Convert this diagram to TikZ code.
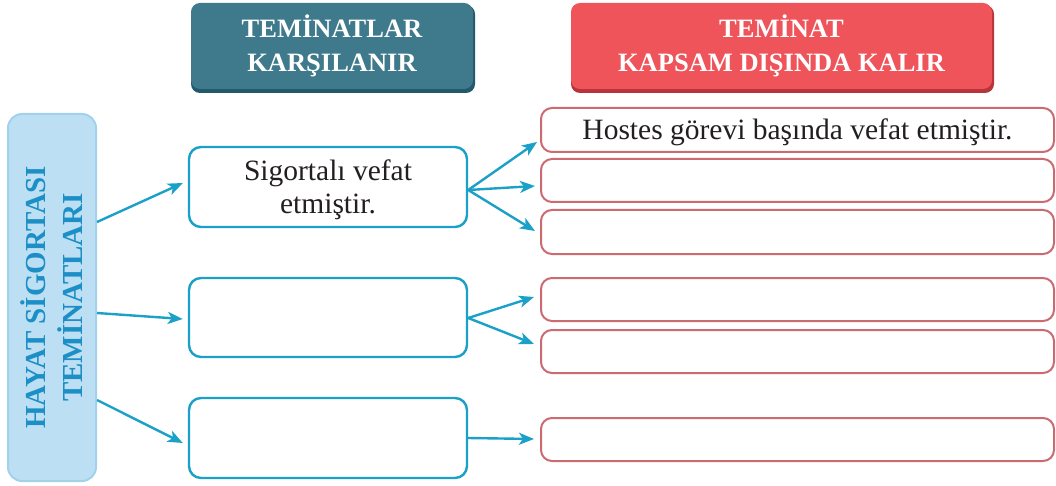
\documentclass[tikz,border=0pt]{standalone}
\usepackage{fontspec}
\setmainfont{Liberation Serif}
\usetikzlibrary{arrows.meta}
\definecolor{teal}{HTML}{3F7A8C}
\definecolor{tealdark}{HTML}{22596B}
\definecolor{redh}{HTML}{EE545A}
\definecolor{redhdark}{HTML}{B8343A}
\definecolor{lightb}{HTML}{BDDFF4}
\definecolor{lightbedge}{HTML}{A2D1EC}
\definecolor{bluetxt}{HTML}{1B8FC6}
\definecolor{bline}{HTML}{1BA0C8}
\definecolor{rline}{HTML}{CC6A72}
\definecolor{txt}{HTML}{231F20}
\tikzset{
  header/.style={rounded corners=9pt, inner sep=0pt, align=center, text=white,
    font=\fontsize{26.5}{34}\selectfont\bfseries},
  midbox/.style={draw=bline, line width=2.4pt, rounded corners=12pt, fill=white,
    minimum width=278pt, minimum height=80pt, inner sep=0pt},
  rbox/.style={draw=rline, line width=2pt, rounded corners=11pt, fill=white,
    minimum width=513pt, minimum height=44pt, inner sep=0pt},
  boxtext/.style={align=center, text=txt, inner sep=0pt, font=\fontsize{29.5}{33.5}\selectfont},
  arr/.style={draw=bline, line width=2.4pt,
    -{Stealth[length=15pt,width=12pt,inset=4pt]}},
}
\begin{document}
\begin{tikzpicture}[x=1pt,y=-1pt]
\useasboundingbox (0,0) rectangle (1056,486);
% headers with shadow
\fill[tealdark, rounded corners=9pt] (191,5) rectangle (475,93);
\node[header, fill=teal, minimum width=282pt, minimum height=86pt] (h1) at (332,46) {TEMİNATLAR\\KARŞILANIR};
\fill[redhdark, rounded corners=9pt] (571,5) rectangle (994,93);
\node[header, fill=redh, minimum width=421pt, minimum height=86pt] (h2) at (781.5,46) {TEMİNAT\\KAPSAM DIŞINDA KALIR};
% left box
\node[draw=lightbedge, line width=2pt, fill=lightb, rounded corners=14pt, minimum width=88pt, minimum height=367pt, inner sep=0pt] (L) at (52,297.5) {};
\node[rotate=90, align=center, text=bluetxt, font=\fontsize{29}{37}\selectfont\bfseries] (Lt) at (L.center) {HAYAT SİGORTASI\\TEMİNATLARI};
% middle boxes
\node[midbox] (m1) at (328,187) {};
\node[boxtext] (m1t) at ([yshift=-3pt]m1.center) {Sigortalı vefat\\etmiştir.};
\node[midbox, minimum height=79pt] (m2) at (328,317.5) {};
\node[midbox] (m3) at (328,438) {};
% right boxes
\node[rbox] (r1) at (797.5,130) {};
\node[boxtext] (r1t) at ([yshift=-2pt]r1.center) {Hostes görevi başında vefat etmiştir.};
\node[rbox, minimum height=43pt] (r2) at (797.5,180.5) {};
\node[rbox] (r3) at (797.5,232) {};
\node[rbox, minimum height=43pt] (r4) at (797.5,299.5) {};
\node[rbox, minimum height=43pt] (r5) at (797.5,351.5) {};
\node[rbox, minimum height=43pt] (r6) at (797.5,439.5) {};
% arrows left -> middle
\draw[arr] (L.east |- 0,222) -- ([xshift=-5pt]m1.west |- 0,183);
\draw[arr] (L.east |- 0,313) -- ([xshift=-5pt]m2.west |- 0,319);
\draw[arr] (L.east |- 0,400) -- ([xshift=-5pt]m3.west |- 0,443);
% arrows middle -> right
\draw[arr] (m1.east |- 0,190) -- ([xshift=-3pt]r1.west |- 0,142);
\draw[arr] (m1.east |- 0,190) -- ([xshift=-5pt]r2.west |- 0,186);
\draw[arr] (m1.east |- 0,190) -- ([xshift=-5pt]r3.west |- 0,231);
\draw[arr] (m2.east |- 0,318) -- ([xshift=-6pt]r4.west |- 0,297);
\draw[arr] (m2.east |- 0,318) -- ([xshift=-6pt]r5.west |- 0,344);
\draw[arr] (m3.east |- 0,438) -- ([xshift=-6pt]r6.west |- 0,439);
\end{tikzpicture}
\end{document}
